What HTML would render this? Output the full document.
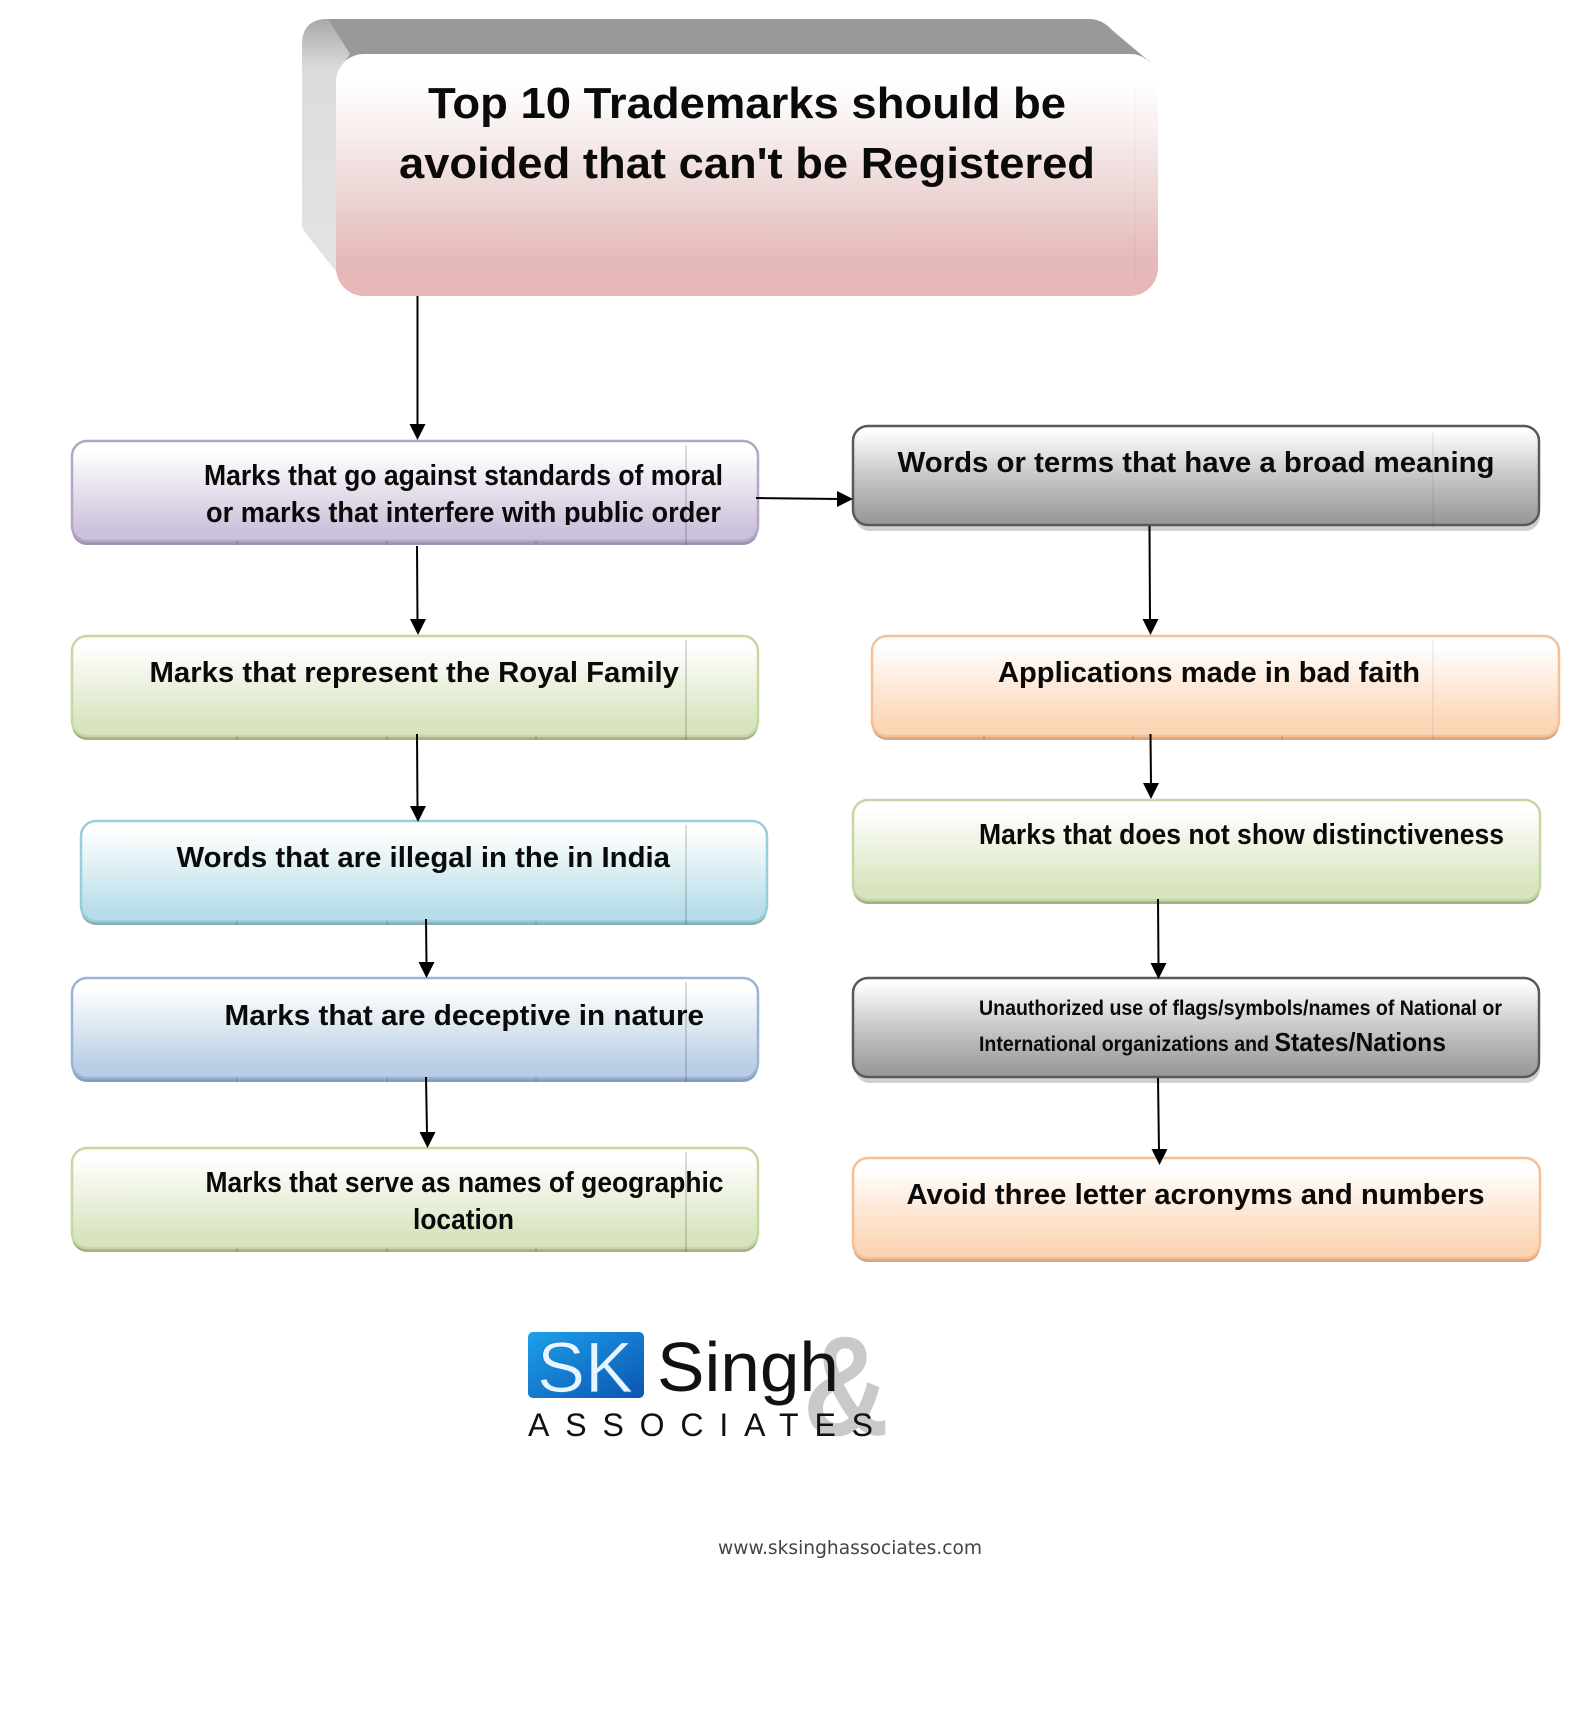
<!DOCTYPE html>
<html>
<head>
<meta charset="utf-8">
<style>
html,body{margin:0;padding:0;background:#fff}
svg{display:block}
text{font-family:"Liberation Sans",Arial,sans-serif;font-weight:bold;fill:#0a0a0a}
.t{font-size:29px}
.a{stroke:#000;stroke-width:2;fill:none}
.h{fill:#000;stroke:none}
.v{stroke:#000;stroke-width:1;stroke-opacity:.28}
.vf{stroke:#000;stroke-width:1;stroke-opacity:.1}
.k{stroke:#000;stroke-width:1;stroke-opacity:.22;fill:none}
</style>
</head>
<body>
<svg width="1589" height="1709" viewBox="0 0 1589 1709" xmlns="http://www.w3.org/2000/svg">
<defs>
<linearGradient id="gT" x1="0" y1="0" x2="0" y2="1"><stop offset="0.12" stop-color="#fff"/><stop offset="0.3" stop-color="#faf0f0"/><stop offset="0.55" stop-color="#eed8d8"/><stop offset="0.85" stop-color="#e6b9b9"/><stop offset="1" stop-color="#e6b8b7"/></linearGradient>
<linearGradient id="gL" x1="0" y1="0" x2="0" y2="1"><stop offset="0" stop-color="#a8a8a8"/><stop offset="0.2" stop-color="#dcdcdc"/><stop offset="1" stop-color="#e2e4e4"/></linearGradient>
<linearGradient id="gP" x1="0" y1="0" x2="0" y2="1"><stop offset="0.1" stop-color="#fff"/><stop offset="0.5" stop-color="#e6e0ec"/><stop offset="0.9" stop-color="#ccc1da"/></linearGradient>
<linearGradient id="gG" x1="0" y1="0" x2="0" y2="1"><stop offset="0.1" stop-color="#fff"/><stop offset="0.5" stop-color="#ebf1de"/><stop offset="0.9" stop-color="#d7e4bd"/></linearGradient>
<linearGradient id="gC" x1="0" y1="0" x2="0" y2="1"><stop offset="0.1" stop-color="#fff"/><stop offset="0.5" stop-color="#dbeef3"/><stop offset="0.9" stop-color="#b7dde8"/></linearGradient>
<linearGradient id="gB" x1="0" y1="0" x2="0" y2="1"><stop offset="0.1" stop-color="#fff"/><stop offset="0.5" stop-color="#dce6f1"/><stop offset="0.9" stop-color="#b9cde5"/></linearGradient>
<linearGradient id="gO" x1="0" y1="0" x2="0" y2="1"><stop offset="0.1" stop-color="#fff"/><stop offset="0.5" stop-color="#fde9d9"/><stop offset="0.9" stop-color="#fcd5b5"/></linearGradient>
<linearGradient id="gY" x1="0" y1="0" x2="0" y2="1"><stop offset="0.06" stop-color="#fdfdfd"/><stop offset="0.5" stop-color="#c8c8c8"/><stop offset="0.95" stop-color="#9a9a9a"/></linearGradient>
<linearGradient id="gS" x1="0" y1="0" x2="1" y2="1"><stop offset="0" stop-color="#1ea0ea"/><stop offset="1" stop-color="#0a55b0"/></linearGradient>
<clipPath id="cl"><rect x="60" y="500" width="700" height="25"/></clipPath>
</defs>

<!-- Title block -->
<path d="M302,45 Q302,19 328,19 L1089,19 Q1102,19 1112,30 L1150,62 L1150,100 L337,100 L337,272 L305,232 Q302,228 302,222 Z" fill="#999"/>
<path d="M302,45 Q302,19 328,19 L350,54 L337,75 L337,272 L305,232 Q302,228 302,222 Z" fill="url(#gL)"/>
<rect x="336" y="54" width="822" height="242" rx="28" fill="url(#gT)"/>
<line x1="1135" y1="90" x2="1135" y2="285" stroke="#000" stroke-opacity=".03"/>
<text x="428" y="118" font-size="44" textLength="638" lengthAdjust="spacingAndGlyphs">Top 10 Trademarks should be</text>
<text x="399" y="178" font-size="44" textLength="696" lengthAdjust="spacingAndGlyphs">avoided that can't be Registered</text>

<!-- Left boxes -->
<rect x="72" y="445" width="686" height="100" rx="15" fill="#a093b0"/>
<rect x="72" y="441" width="686" height="100" rx="15" fill="url(#gP)" stroke="#b3a6c6" stroke-width="2.5"/>
<line class="v" x1="686" y1="445" x2="686" y2="545"/>
<path class="k" d="M237,541V545M387,541V545M536,541V545"/>
<text class="t" x="204" y="485" textLength="519" lengthAdjust="spacingAndGlyphs">Marks that go against standards of moral</text>
<text class="t" x="206" y="522" textLength="515" lengthAdjust="spacingAndGlyphs" clip-path="url(#cl)">or marks that interfere with public order</text>

<rect x="72" y="640" width="686" height="100" rx="15" fill="#a4b188"/>
<rect x="72" y="636" width="686" height="100" rx="15" fill="url(#gG)" stroke="#c6d7a3" stroke-width="2.5"/>
<line class="v" x1="686" y1="640" x2="686" y2="740"/>
<path class="k" d="M237,736V740M387,736V740M536,736V740"/>
<text class="t" x="149.500" y="682" textLength="529.500" lengthAdjust="spacingAndGlyphs">Marks that represent the Royal Family</text>

<rect x="81" y="825" width="686" height="100" rx="15" fill="#8cb0ba"/>
<rect x="81" y="821" width="686" height="100" rx="15" fill="url(#gC)" stroke="#97cfdd" stroke-width="2.5"/>
<line class="v" x1="686" y1="825" x2="686" y2="925"/>
<path class="k" d="M237,921V925M387,921V925M536,921V925"/>
<text class="t" x="176.500" y="867" textLength="493.500" lengthAdjust="spacingAndGlyphs">Words that are illegal in the in India</text>

<rect x="72" y="982" width="686" height="100" rx="15" fill="#889dba"/>
<rect x="72" y="978" width="686" height="100" rx="15" fill="url(#gB)" stroke="#98b4d6" stroke-width="2.5"/>
<line class="v" x1="686" y1="982" x2="686" y2="1082"/>
<path class="k" d="M237,1078V1082M387,1078V1082M536,1078V1082"/>
<text class="t" x="224.500" y="1025" textLength="479.500" lengthAdjust="spacingAndGlyphs">Marks that are deceptive in nature</text>

<rect x="72" y="1152" width="686" height="100" rx="15" fill="#a4b188"/>
<rect x="72" y="1148" width="686" height="100" rx="15" fill="url(#gG)" stroke="#c6d7a3" stroke-width="2.5"/>
<line class="v" x1="686" y1="1152" x2="686" y2="1252"/>
<path class="k" d="M237,1248V1252M387,1248V1252M536,1248V1252"/>
<text class="t" x="205.500" y="1192" textLength="518" lengthAdjust="spacingAndGlyphs">Marks that serve as names of geographic</text>
<text class="t" x="413" y="1229" textLength="101" lengthAdjust="spacingAndGlyphs">location</text>

<!-- Right boxes -->
<rect x="855" y="431" width="685" height="100" rx="15" fill="#cfcfcf"/>
<rect x="853" y="426" width="686" height="99" rx="15" fill="url(#gY)" stroke="#595959" stroke-width="2.5"/>
<line class="vf" x1="1433" y1="432" x2="1433" y2="528"/>
<text class="t" x="897.500" y="472" textLength="597" lengthAdjust="spacingAndGlyphs">Words or terms that have a broad meaning</text>

<rect x="872" y="640" width="687" height="100" rx="15" fill="#d6a783"/>
<rect x="872" y="636" width="687" height="100" rx="15" fill="url(#gO)" stroke="#f5c096" stroke-width="2.5"/>
<line class="vf" x1="1433" y1="640" x2="1433" y2="740"/>
<path class="k" d="M984,736V740M1133,736V740M1282,736V740"/>
<text class="t" x="998" y="682" textLength="422" lengthAdjust="spacingAndGlyphs">Applications made in bad faith</text>

<rect x="853" y="804" width="687" height="100" rx="15" fill="#a4b188"/>
<rect x="853" y="800" width="687" height="100" rx="15" fill="url(#gG)" stroke="#c6d7a3" stroke-width="2.5"/>
<text class="t" x="979" y="844" textLength="525" lengthAdjust="spacingAndGlyphs">Marks that does not show distinctiveness</text>

<rect x="855" y="983" width="685" height="100" rx="15" fill="#cfcfcf"/>
<rect x="853" y="978" width="686" height="99" rx="15" fill="url(#gY)" stroke="#595959" stroke-width="2.5"/>
<text x="979" y="1015" font-size="21" textLength="523" lengthAdjust="spacingAndGlyphs">Unauthorized use of flags/symbols/names of National or</text>
<text x="979" y="1051" font-size="21" textLength="290" lengthAdjust="spacingAndGlyphs">International organizations and</text>
<text x="1274.500" y="1051" font-size="26" textLength="171.500" lengthAdjust="spacingAndGlyphs">States/Nations</text>

<rect x="853" y="1162" width="687" height="100" rx="15" fill="#d6a783"/>
<rect x="853" y="1158" width="687" height="100" rx="15" fill="url(#gO)" stroke="#f5c096" stroke-width="2.5"/>
<text class="t" x="906.500" y="1204" textLength="578" lengthAdjust="spacingAndGlyphs">Avoid three letter acronyms and numbers</text>

<!-- Arrows -->
<line class="a" x1="417.500" y1="296" x2="417.500" y2="426"/><path class="h" d="M409.500,424 L425.500,424 L417.500,440 Z"/>
<line class="a" x1="417" y1="546" x2="417.500" y2="621"/><path class="h" d="M410,619 L426,619 L418,635 Z"/>
<line class="a" x1="417" y1="734" x2="417.500" y2="808"/><path class="h" d="M410,806 L426,806 L418,822 Z"/>
<line class="a" x1="426" y1="919" x2="426.500" y2="964"/><path class="h" d="M418.500,962 L434.500,962 L426.500,978 Z"/>
<line class="a" x1="426" y1="1077" x2="427" y2="1134"/><path class="h" d="M419.500,1132 L435.500,1132 L427.500,1148 Z"/>
<line class="a" x1="756" y1="498" x2="840" y2="499"/><path class="h" d="M837,491 L853,499 L837,507 Z"/>
<line class="a" x1="1149.500" y1="526" x2="1150" y2="621"/><path class="h" d="M1142.500,619 L1158.500,619 L1150.500,635 Z"/>
<line class="a" x1="1150.500" y1="734" x2="1151" y2="785"/><path class="h" d="M1143,783 L1159,783 L1151,799 Z"/>
<line class="a" x1="1158" y1="899" x2="1158.500" y2="965"/><path class="h" d="M1150.500,963 L1166.500,963 L1158.500,979 Z"/>
<line class="a" x1="1158" y1="1078" x2="1159" y2="1151"/><path class="h" d="M1151.500,1149 L1167.500,1149 L1159.500,1165 Z"/>

<!-- Logo -->
<text x="803" y="1435" font-size="142" textLength="86" lengthAdjust="spacingAndGlyphs" style="fill:#c9c9c9">&amp;</text>
<rect x="528" y="1332" width="116" height="66" rx="5" fill="url(#gS)"/>
<text x="537" y="1392" font-size="71" textLength="96" lengthAdjust="spacingAndGlyphs" style="font-weight:normal;fill:#e6f5ff;stroke:#1b78cf;stroke-width:.8">SK</text>
<text x="657" y="1391" font-size="70" textLength="182" lengthAdjust="spacingAndGlyphs" style="font-weight:normal;fill:#111">Singh</text>
<text x="528" y="1436" font-size="32" textLength="345" style="font-weight:normal;fill:#111">ASSOCIATES</text>
<text x="718" y="1554" font-size="19" textLength="264" lengthAdjust="spacingAndGlyphs" style="font-family:'DejaVu Sans',sans-serif;font-weight:normal;fill:#444">www.sksinghassociates.com</text>
</svg>
</body>
</html>
